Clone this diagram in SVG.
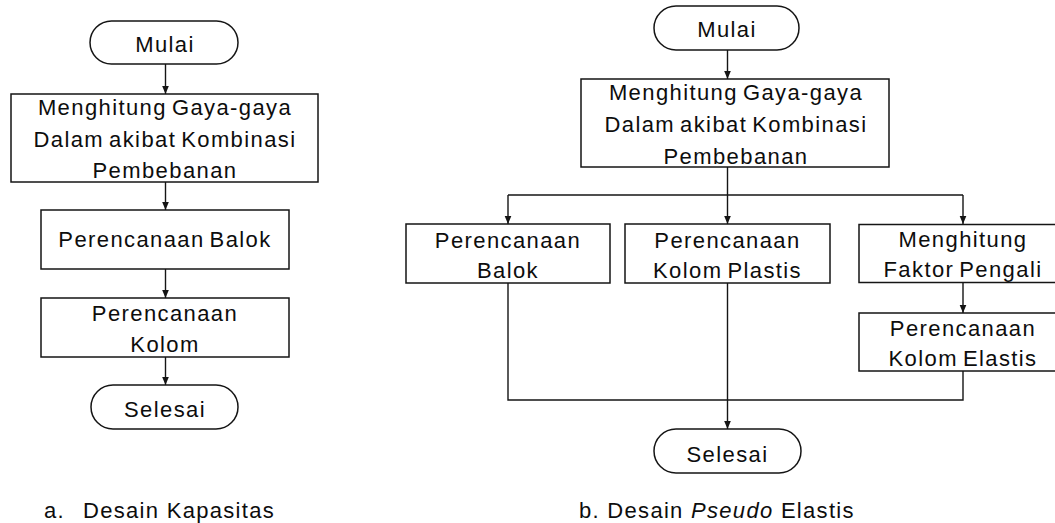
<svg xmlns="http://www.w3.org/2000/svg" width="1055" height="523" viewBox="0 0 1055 523">
<style>
.box{fill:#fff;stroke:#151515;stroke-width:1.5}
.ln{fill:none;stroke:#151515;stroke-width:1.4}
.t{font-family:"Liberation Sans",Arial,sans-serif;font-size:22px;letter-spacing:1.4px;word-spacing:-2.5px;fill:#0d0d0d;text-anchor:middle}
.c{font-family:"Liberation Sans",Arial,sans-serif;font-size:22px;letter-spacing:1.3px;fill:#0d0d0d}
</style>
<defs>
<marker id="ah" markerUnits="userSpaceOnUse" markerWidth="16" markerHeight="16" viewBox="-8 -8 16 16" refX="0" refY="0" orient="auto">
<path d="M0,0 L-12,-5 L-8.5,0 L-12,5 Z" fill="#151515"/>
</marker>
</defs>

<g id="connectors">
<line class="ln" x1="165.5" y1="64" x2="165.5" y2="94" marker-end="url(#ah)"/>
<line class="ln" x1="165.5" y1="182" x2="165.5" y2="210" marker-end="url(#ah)"/>
<line class="ln" x1="165.5" y1="269" x2="165.5" y2="298" marker-end="url(#ah)"/>
<line class="ln" x1="165.5" y1="357" x2="165.5" y2="385" marker-end="url(#ah)"/>
<line class="ln" x1="727.5" y1="50" x2="727.5" y2="79" marker-end="url(#ah)"/>
<polyline class="ln" points="727.5,167 727.5,195"/>
<polyline class="ln" points="508,195 963,195"/>
<line class="ln" x1="508" y1="195" x2="508" y2="224" marker-end="url(#ah)"/>
<line class="ln" x1="727.5" y1="195" x2="727.5" y2="224" marker-end="url(#ah)"/>
<line class="ln" x1="963" y1="195" x2="963" y2="224" marker-end="url(#ah)"/>
<line class="ln" x1="963" y1="283" x2="963" y2="313" marker-end="url(#ah)"/>
<polyline class="ln" points="508,283 508,400 963,400 963,371"/>
<line class="ln" x1="727.5" y1="283" x2="727.5" y2="429" marker-end="url(#ah)"/>
</g>

<g id="a-mulai">
<rect class="box" x="90" y="21" width="148" height="43" rx="21.5"/>
<text class="t" x="165" y="52">Mulai</text>
</g>
<g id="a-gaya">
<rect class="box" x="11" y="94" width="307" height="88"/>
<text class="t" x="165" y="115">Menghitung Gaya-gaya</text>
<text class="t" x="165" y="147">Dalam akibat Kombinasi</text>
<text class="t" x="165" y="178">Pembebanan</text>
</g>
<g id="a-balok">
<rect class="box" x="41" y="210" width="248" height="59"/>
<text class="t" x="165" y="247">Perencanaan Balok</text>
</g>
<g id="a-kolom">
<rect class="box" x="41" y="298" width="248" height="59"/>
<text class="t" x="165" y="321">Perencanaan</text>
<text class="t" x="165" y="352">Kolom</text>
</g>
<g id="a-selesai">
<rect class="box" x="91" y="385" width="147" height="44" rx="22"/>
<text class="t" x="165" y="417">Selesai</text>
</g>
<g id="a-caption">
<text class="c" x="44" y="518">a.</text>
<text class="c" x="83" y="518">Desain Kapasitas</text>
</g>

<g id="b-mulai">
<rect class="box" x="654" y="6" width="145" height="44" rx="22"/>
<text class="t" x="727" y="37">Mulai</text>
</g>
<g id="b-gaya">
<rect class="box" x="581" y="79" width="308" height="88"/>
<text class="t" x="736" y="100">Menghitung Gaya-gaya</text>
<text class="t" x="736" y="132">Dalam akibat Kombinasi</text>
<text class="t" x="736" y="164">Pembebanan</text>
</g>
<g id="b-balok">
<rect class="box" x="406" y="224" width="204" height="59"/>
<text class="t" x="508" y="247.5">Perencanaan</text>
<text class="t" x="508" y="278">Balok</text>
</g>
<g id="b-plastis">
<rect class="box" x="625" y="224" width="205" height="59"/>
<text class="t" x="727.5" y="247.5">Perencanaan</text>
<text class="t" x="727.5" y="278">Kolom Plastis</text>
</g>
<g id="b-faktor">
<rect class="box" x="859" y="224.5" width="208" height="58"/>
<text class="t" x="963" y="247">Menghitung</text>
<text class="t" x="963" y="277">Faktor Pengali</text>
</g>
<g id="b-elastis">
<rect class="box" x="859" y="313" width="208" height="58"/>
<text class="t" x="963" y="336">Perencanaan</text>
<text class="t" x="963" y="366">Kolom Elastis</text>
</g>
<g id="b-selesai">
<rect class="box" x="654" y="429" width="147" height="44" rx="22"/>
<text class="t" x="727.5" y="462">Selesai</text>
</g>
<g id="b-caption">
<text class="c" x="579" y="518">b. Desain <tspan font-style="italic">Pseudo</tspan> Elastis</text>
</g>
</svg>
